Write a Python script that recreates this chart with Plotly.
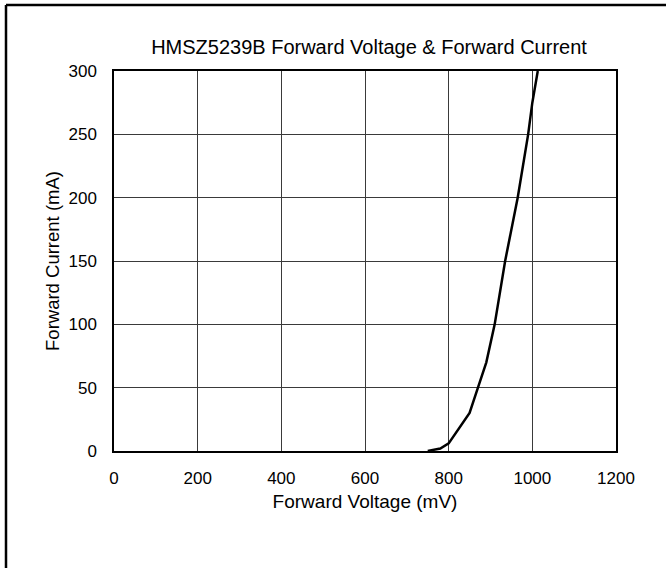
import plotly.graph_objects as go

# Forward characteristic of the HMSZ5239B diode
forward_voltage_mv = [750, 780, 800, 850, 870, 890, 910, 935, 965, 990, 1000, 1013]
forward_current_ma = [0, 2, 6, 30, 50, 70, 100, 150, 200, 250, 275, 300]

x_ticks = [0, 200, 400, 600, 800, 1000, 1200]
y_ticks = [0, 50, 100, 150, 200, 250, 300]

FONT = "Liberation Sans, Arial, sans-serif"

fig = go.Figure()
fig.add_trace(go.Scatter(
    x=forward_voltage_mv,
    y=forward_current_ma,
    mode="lines",
    line=dict(color="black", width=2.5),
    showlegend=False,
    cliponaxis=True,
))

W, H = 666, 568
L, R, T, B = 114, 50, 71, 117
pw, ph = W - L - R, H - T - B

def px_x(p):
    return (p - L) / pw

def px_y(p):
    return (H - B - p) / ph

# outer frame (top and left edges)
fig.add_shape(type="line", xref="paper", yref="paper",
              x0=px_x(6), y0=px_y(5), x1=px_x(670), y1=px_y(5),
              line=dict(color="black", width=2.5))
fig.add_shape(type="line", xref="paper", yref="paper",
              x0=px_x(6), y0=px_y(5), x1=px_x(6), y1=px_y(572),
              line=dict(color="black", width=2.5))

fig.update_layout(
    width=W, height=H,
    margin=dict(l=L, r=R, t=T, b=B, autoexpand=False),
    paper_bgcolor="white",
    plot_bgcolor="white",
    font=dict(family=FONT, size=17, color="black"),
    title=dict(text="HMSZ5239B Forward Voltage & Forward Current",
               x=369 / W, xanchor="center", y=1 - 47 / H, yanchor="middle",
               font=dict(size=20, family=FONT, color="black")),
)

fig.update_xaxes(
    range=[0, 1200], tickvals=x_ticks, ticktext=[str(v) for v in x_ticks],
    showgrid=True, gridcolor="#3a3a3a", gridwidth=1,
    showline=True, linecolor="black", linewidth=1.5, mirror=True,
    ticks="outside", ticklen=11, tickcolor="rgba(0,0,0,0)",
    zeroline=False, automargin=False,
    title=dict(text="Forward Voltage (mV)", font=dict(size=19), standoff=8),
    tickfont=dict(size=17),
)
fig.update_yaxes(
    range=[0, 300], tickvals=y_ticks, ticktext=[str(v) for v in y_ticks],
    showgrid=True, gridcolor="#3a3a3a", gridwidth=1,
    showline=True, linecolor="black", linewidth=1.5, mirror=True,
    ticks="outside", ticklen=12, tickcolor="rgba(0,0,0,0)",
    zeroline=False, automargin=False,
    title=dict(text="Forward Current (mA)", font=dict(size=18.5), standoff=4),
    tickfont=dict(size=17),
)

fig.write_html("out.html")
